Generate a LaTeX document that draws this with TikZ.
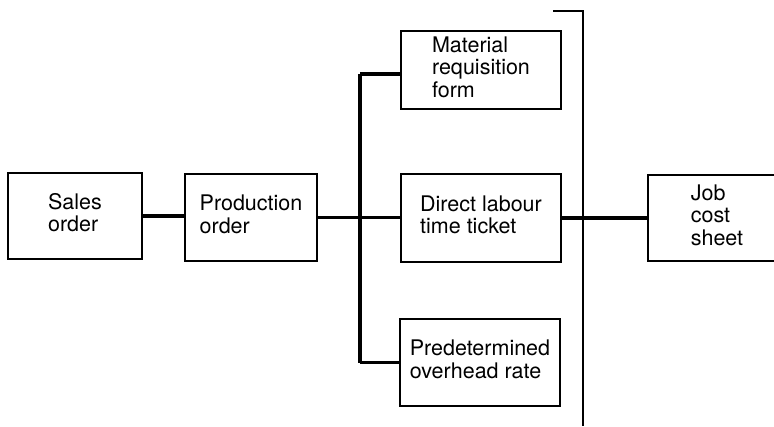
\documentclass[tikz,border=0pt]{standalone}
\usepackage{fontspec}
\setmainfont{TeX Gyre Heros}
% flush-left stack of lines inside a box
\newcommand{\doclines}[1]{\begin{tabular}{@{}l@{}}#1\end{tabular}}
\begin{document}
\begin{tikzpicture}[x=1pt,y=-1pt,
  docbox/.style={draw, line width=2.4pt, inner sep=0pt,
    font=\fontsize{21.5}{22.5}\selectfont},
  link/.style={line width=3.4pt},
  rule/.style={line width=2.2pt}]
  \useasboundingbox (0,0) rectangle (774,426);
  \clip (0,0) rectangle (774,426);

  % Documents in the costing chain
  \node[docbox, minimum width=134pt, minimum height=86pt] (sales) at (75,216) {\doclines{Sales\\order}};
  \node[docbox, minimum width=132pt, minimum height=87pt] (prod) at (251,217.5) {\doclines{Production\\order}};
  \node[docbox, minimum width=160pt, minimum height=78pt] (mat) at (481,70) {\doclines{Material\\requisition\\form}};
  \node[docbox, minimum width=160pt, minimum height=88pt] (lab) at (481,218) {\doclines{Direct labour\\time ticket}};
  \node[docbox, minimum width=160pt, minimum height=87pt] (ovh) at (480,362.5) {\doclines{Predetermined\\overhead rate}};
  \node[docbox, minimum width=138pt, minimum height=86pt] (job) at (717,218) {\doclines{Job\\cost\\sheet}};

  % Junction points of the branching bus
  \coordinate (bustop) at (360,74);
  \coordinate (busbot) at (360,362.5);

  % Connectors
  \draw[link] (sales.east) -- (sales.east -| prod.west);
  \draw[link] (prod.east) -- (prod.east -| lab.west);
  \draw[link] (bustop) -- (busbot);
  \draw[link] (bustop) -- (bustop -| mat.west);
  \draw[link] (busbot) -- (ovh.west);
  \draw[link] (lab.east) -- (lab.east -| job.west);

  % Bracket closing off the source documents
  \coordinate (brtick) at (553,11);
  \coordinate (brtop) at (583,11);
  \coordinate (brbot) at (583,426);
  \draw[rule] (brtick) -- (brtop) -- (brbot);
\end{tikzpicture}
\end{document}
